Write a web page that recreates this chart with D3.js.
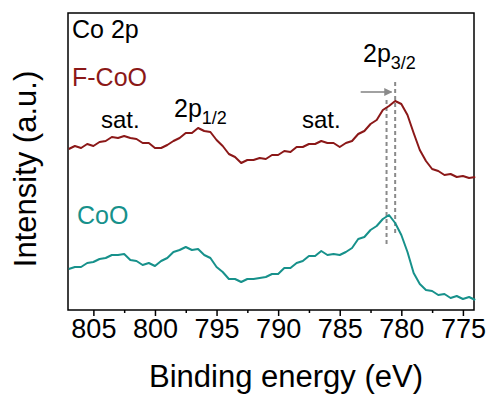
<!DOCTYPE html>
<html>
<head>
<meta charset="utf-8">
<script src="https://cdn.jsdelivr.net/npm/d3@7/dist/d3.min.js"></script>
<style>
  html, body { margin: 0; padding: 0; background: #fff; }
  svg { display: block; font-family: "Liberation Sans", Arial, sans-serif; }
</style>
</head>
<body>
<svg id="chart" width="490" height="396"></svg>
<script>
// Co 2p XPS spectra, binding energy (eV) sampled every 0.5 eV
const energy = d3.range(807, 773.9, -0.5);

const fCoO = [161,164,162,166,164,168,169,173,172,174,
  172,171,167,167,162,162,165,169,172,177,
  177,182,179,178,170,164,156,153,147,150,
  150,152,151,155,155,159,158,163,163,166,
  166,169,167,167,163,167,169,176,179,186,
  190,200,204,209,206,195,177,160,149,141,
  139,135,136,133,134,132,133];

const coO = [41,43,43,47,48,51,52,55,55,56,
  50,49,45,47,44,49,52,58,60,63,
  60,61,55,52,43,38,31,31,28,31,
  31,32,33,36,36,42,42,47,49,54,
  54,59,55,56,55,58,62,71,73,80,
  84,91,95,87,75,58,37,26,20,19,
  15,16,12,14,11,13,10];

const xTicks = [805, 800, 795, 790, 785, 780, 775];
const xMinorTicks = [802.5, 797.5, 792.5, 787.5, 782.5, 777.5];
const peakLines = [781.2, 780.5];   // CoO and F-CoO 2p3/2 maxima
const shiftArrow = [783.3, 780.8];

const colors = { fCoO: "#8b1818", coO: "#17918b", guide: "#8a8a8a" };

const svg = d3.select("#chart");
const m = { left: 68, right: 474, top: 13, bottom: 310 };

const x = d3.scaleLinear().domain([807.06, 774.1]).range([m.left, m.right]);
const y = d3.scaleLinear().domain([0, 297]).range([m.bottom, m.top]);

// frame
svg.append("rect")
  .attr("x", m.left).attr("y", m.top)
  .attr("width", m.right - m.left).attr("height", m.bottom - m.top)
  .attr("fill", "none").attr("stroke", "#000").attr("stroke-width", 1.5);

// bottom axis: major ticks with labels, minor ticks between
const xAxis = svg.append("g")
  .attr("transform", `translate(0,${m.bottom})`)
  .call(d3.axisBottom(x).tickValues(xTicks).tickFormat(d3.format("d")).tickSize(6).tickPadding(3));
xAxis.select(".domain").remove();
xAxis.selectAll(".tick line").attr("stroke", "#000").attr("stroke-width", 1.5);
xAxis.selectAll(".tick text")
  .style("font-family", "'Liberation Sans', Arial, sans-serif")
  .style("font-size", "27px").attr("fill", "#000");

const xMinor = svg.append("g")
  .attr("transform", `translate(0,${m.bottom})`)
  .call(d3.axisBottom(x).tickValues(xMinorTicks).tickFormat("").tickSize(3));
xMinor.select(".domain").remove();
xMinor.selectAll(".tick line").attr("stroke", "#000").attr("stroke-width", 1.5);

// axis titles
svg.append("text")
  .attr("x", 286).attr("y", 387)
  .attr("text-anchor", "middle").style("font-size", "31px").attr("fill", "#000")
  .text("Binding energy (eV)");

svg.append("text")
  .attr("transform", `translate(36,${169}) rotate(-90)`)
  .attr("text-anchor", "middle").style("font-size", "31px").attr("fill", "#000")
  .text("Intensity (a.u.)");

// peak guide lines
svg.append("g").selectAll("line").data(peakLines).join("line")
  .attr("x1", d => x(d)).attr("x2", d => x(d))
  .attr("y1", (d, i) => i === 0 ? 100 : 82)
  .attr("y2", (d, i) => i === 0 ? 245 : 233)
  .attr("stroke", colors.guide).attr("stroke-width", 2)
  .attr("stroke-dasharray", "4,3");

// shift arrow
svg.append("defs").append("marker")
  .attr("id", "arrowhead").attr("viewBox", "0 0 10 10")
  .attr("refX", 9).attr("refY", 5)
  .attr("markerWidth", 5).attr("markerHeight", 5)
  .attr("markerUnits", "strokeWidth").attr("orient", "auto")
  .append("path").attr("d", "M0,0 L10,5 L0,10 z").attr("fill", colors.guide);

svg.append("line")
  .attr("x1", x(shiftArrow[0])).attr("x2", x(shiftArrow[1]))
  .attr("y1", 92).attr("y2", 92)
  .attr("stroke", colors.guide).attr("stroke-width", 1.6)
  .attr("marker-end", "url(#arrowhead)");

// spectra
const line = d3.line().x((d, i) => x(energy[i])).y(d => y(d));
svg.append("path").datum(fCoO)
  .attr("d", line).attr("fill", "none")
  .attr("stroke", colors.fCoO).attr("stroke-width", 2).attr("stroke-linejoin", "round");
svg.append("path").datum(coO)
  .attr("d", line).attr("fill", "none")
  .attr("stroke", colors.coO).attr("stroke-width", 2).attr("stroke-linejoin", "round");

// annotations
const label = (tx, ty, size, color, str) =>
  svg.append("text").attr("x", tx).attr("y", ty)
    .style("font-size", size + "px").attr("fill", color).text(str);

label(72, 38, 25, "#000", "Co 2p");
label(72, 86, 25, colors.fCoO, "F-CoO");
label(77, 224, 25, colors.coO, "CoO");
label(101, 128, 24, "#000", "sat.");
label(302, 128, 24, "#000", "sat.");

const p12 = label(174, 117, 25, "#000", null);
p12.append("tspan").text("2p");
p12.append("tspan").attr("dy", 7).style("font-size", "18px").text("1/2");

const p32 = label(363, 62, 25, "#000", null);
p32.append("tspan").text("2p");
p32.append("tspan").attr("dy", 7).style("font-size", "18px").text("3/2");
</script>
</body>
</html>
